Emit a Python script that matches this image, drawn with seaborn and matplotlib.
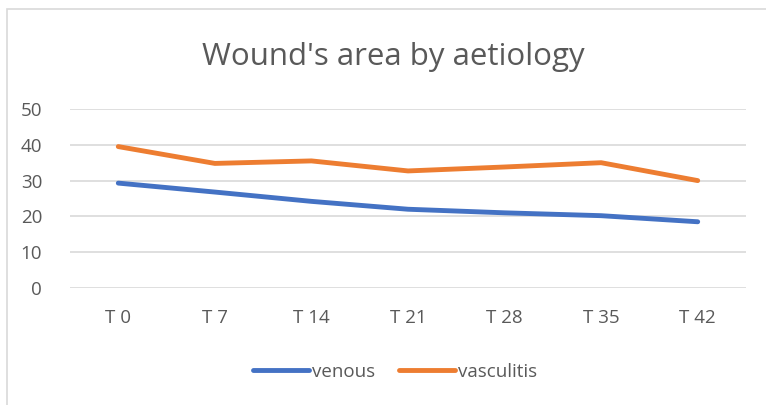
import matplotlib
matplotlib.use("Agg")
import matplotlib.pyplot as plt
import seaborn as sns
import pandas as pd
from matplotlib.patches import Rectangle

# Data
timepoints = ["T 0", "T 7", "T 14", "T 21", "T 28", "T 35", "T 42"]
venous = [29.3, 26.8, 24.2, 22.0, 21.0, 20.2, 18.5]
vasculitis = [39.5, 34.8, 35.5, 32.7, 33.8, 35.0, 30.0]
series_names = ["venous", "vasculitis"]
y_ticks = [0, 10, 20, 30, 40, 50]

sns.set_theme(style="white")
plt.rcParams['font.family'] = ['Open Sans', 'DejaVu Sans']

df = pd.DataFrame({
    "t": list(range(len(timepoints))) * 2,
    "area": venous + vasculitis,
    "aetiology": [series_names[0]] * len(venous) + [series_names[1]] * len(vasculitis),
})

text_col = "#595959"
fig = plt.figure(figsize=(7.66, 4.05), dpi=100)
ax = fig.add_axes([70 / 766, 1 - 288 / 405, (746 - 70) / 766, (288 - 109) / 405])

sns.lineplot(data=df, x="t", y="area", hue="aetiology",
             palette={"venous": "#4472C4", "vasculitis": "#ED7D31"},
             linewidth=3.5, ax=ax, legend=False, solid_capstyle="round")

ax.set_xlim(-0.5, len(timepoints) - 0.5)
ax.set_ylim(0, 50)
ax.set_yticks(y_ticks)
ax.set_xticks(range(len(timepoints)))
ax.set_xticklabels(timepoints)
ax.set_xlabel("")
ax.set_ylabel("")
ax.grid(axis="y", color="#d9d9d9", linewidth=1.2)
ax.set_axisbelow(True)
for s in ax.spines.values():
    s.set_visible(False)
ax.tick_params(axis="both", length=0, labelsize=13.5, labelcolor=text_col)
ax.tick_params(axis="x", pad=15)
ax.tick_params(axis="y", pad=20)

fig.text(393 / 766, 1 - 57 / 405, "Wound's area by aetiology", ha="center", va="center",
         fontsize=22.5, color=text_col)

# legend
handles = [plt.Line2D([], [], color=c, linewidth=3.5, solid_capstyle="round")
           for c in ["#4472C4", "#ED7D31"]]
fig.legend(handles, series_names, loc="center", bbox_to_anchor=(395 / 766, 1 - 372 / 405),
           ncol=2, frameon=False, fontsize=13.5, labelcolor=text_col,
           handlelength=3.0, handletextpad=0.15, columnspacing=1.3)

# chart border
fig.patches.append(Rectangle((7 / 766, -0.1), 1.0, 1 - 9 / 405 + 0.1, transform=fig.transFigure,
                             fill=False, edgecolor="#d9d9d9", linewidth=1.2))

fig.savefig("out.png", dpi=100)
